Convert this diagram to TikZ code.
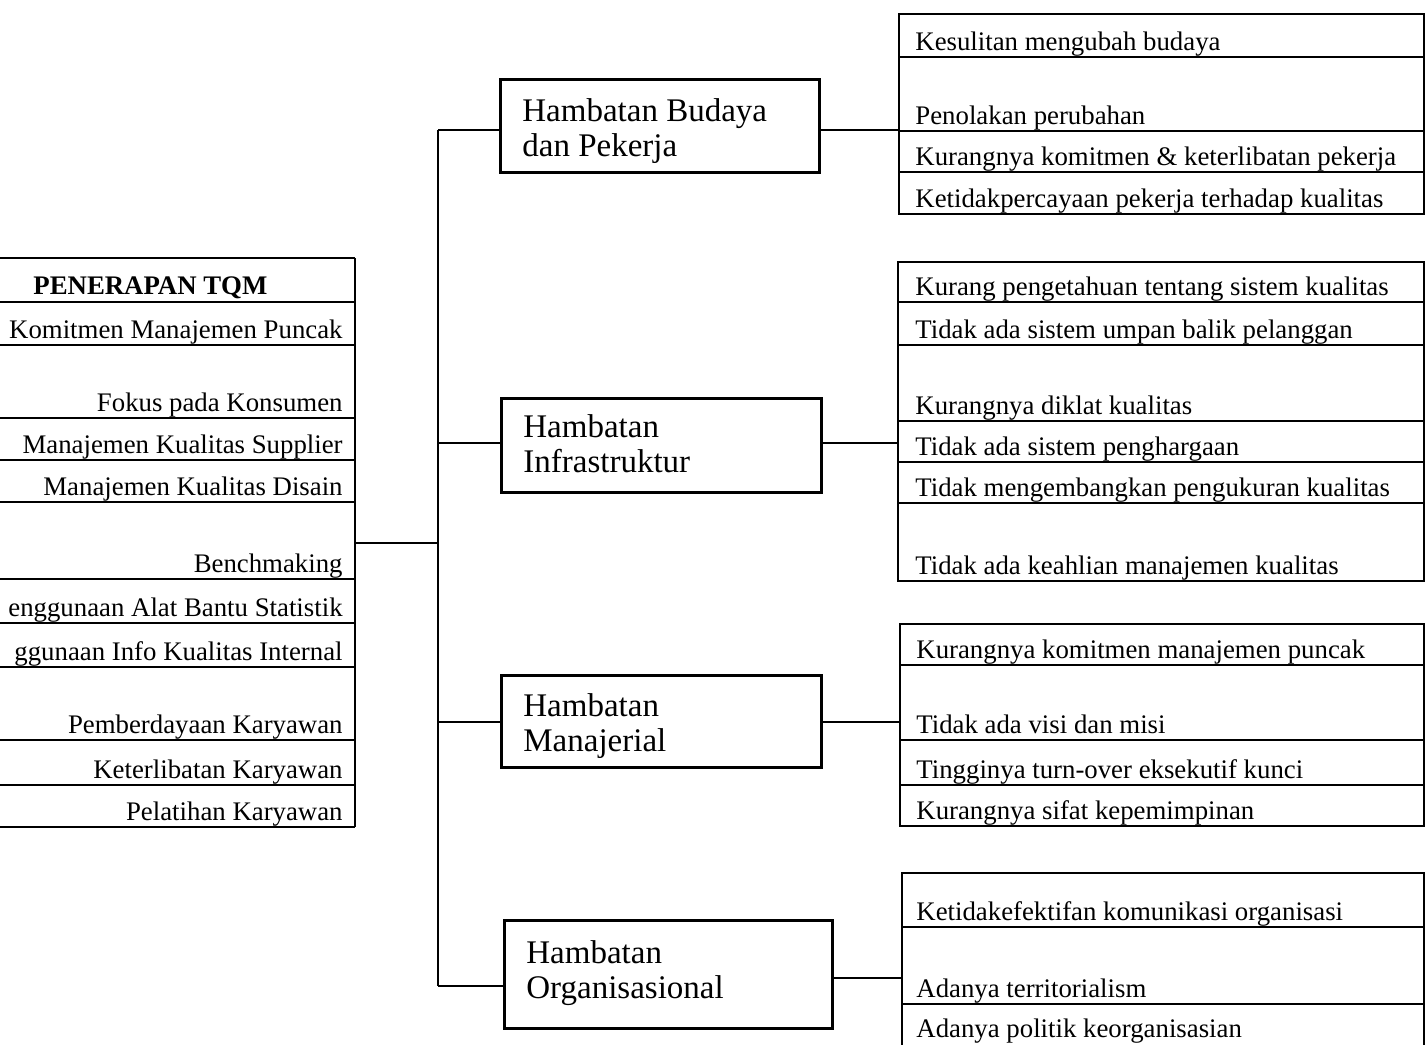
\documentclass[tikz,border=0pt]{standalone}
\usepackage{fontspec}
\setmainfont{Liberation Serif}
\newcommand{\hlab}[3]{\raisebox{#1}[\height][\depth]{\makebox[#2][l]{\begin{tabular}{@{}l@{}}#3\end{tabular}}}}
\begin{document}
\begin{tikzpicture}[x=0.5pt,y=-0.5pt,
  rowtxt/.style={inner sep=0pt,font=\fontsize{13.4}{16}\selectfont},
  lt/.style={rowtxt,anchor=base east},
  rt/.style={rowtxt,anchor=base west},
  rule/.style={line width=1pt},
  conn/.style={line width=1.2pt},
  hbox/.style={draw,line width=1.4pt,inner sep=0pt,anchor=north west,
    font=\fontsize{16.5}{17.5}\selectfont}]
\useasboundingbox (0,0) rectangle (1427,1044);
\clip (0,0) rectangle (1427,1044);
\fill[white] (0,0) rectangle (1427,1044);

% ---------------- left table: PENERAPAN TQM ----------------
\foreach \yy in {258,302,345,418,460,502,579,623,667,740,785,827}
  \draw[rule] (0,\yy) -- (355,\yy);
\draw[rule] (355,258) -- (355,827);
\node[rowtxt,anchor=base west,font=\fontsize{13.4}{16}\selectfont\bfseries] (tqm) at (33,294) {PENERAPAN TQM};
\node[lt] (l1) at (343,338) {Komitmen Manajemen Puncak};
\node[lt] (l2) at (343,411) {Fokus pada Konsumen};
\node[lt] (l3) at (343,453) {Manajemen Kualitas Supplier};
\node[lt] (l4) at (343,495) {Manajemen Kualitas Disain};
\node[lt] (l5) at (343,572) {Benchmaking};
\node[lt] (l6) at (343,616) {enggunaan Alat Bantu Statistik};
\node[lt] (l7) at (343,660) {ggunaan Info Kualitas Internal};
\node[lt] (l8) at (343,733) {Pemberdayaan Karyawan};
\node[lt] (l9) at (343,778) {Keterlibatan Karyawan};
\node[lt] (l10) at (343,820) {Pelatihan Karyawan};
\coordinate (tqmE) at (355,543);

% ---------------- middle boxes ----------------
\node[hbox,minimum width=159.5pt,minimum height=46.5pt] (budaya) at (499,78)
  {\hlab{-3pt}{137.5pt}{Hambatan Budaya\\dan Pekerja}};
\node[hbox,minimum width=160pt,minimum height=47pt] (infra) at (500,397)
  {\hlab{-1.5pt}{138pt}{Hambatan\\Infrastruktur}};
\node[hbox,minimum width=160pt,minimum height=46pt] (manaj) at (500,674)
  {\hlab{-3pt}{138pt}{Hambatan\\Manajerial}};
\node[hbox,minimum width=164pt,minimum height=54pt] (organ) at (503,919)
  {\hlab{0pt}{142pt}{Hambatan\\Organisasional}};

% spine
\coordinate (s1) at (438,130);
\coordinate (s2) at (438,443);
\coordinate (s3) at (438,722);
\coordinate (s4) at (438,986);
\draw[conn] (s1) -- (s4);
\draw[conn] (tqmE) -- (tqmE -| s1);
\draw[conn] (s1) -- (budaya.west |- s1);
\draw[conn] (s2) -- (infra.west |- s2);
\draw[conn] (s3) -- (manaj.west |- s3);
\draw[conn] (s4) -- (organ.west |- s4);

% ---------------- right tables ----------------
% table 1
\draw[rule] (899,14) rectangle (1424,214);
\foreach \yy in {57,131,172} \draw[rule] (899,\yy) -- (1424,\yy);
\node[rt] (a1) at (915,50) {Kesulitan mengubah budaya};
\node[rt] (a2) at (915,124) {Penolakan perubahan};
\node[rt] (a3) at (915,165) {Kurangnya komitmen \& keterlibatan pekerja};
\node[rt] (a4) at (915,207) {Ketidakpercayaan pekerja terhadap kualitas};
\coordinate (t1w) at (899,130);
\draw[conn] (budaya.east |- t1w) -- (t1w);

% table 2
\draw[rule] (898,262) rectangle (1424,581);
\foreach \yy in {302,345,421,462,503} \draw[rule] (898,\yy) -- (1424,\yy);
\node[rt] (b1) at (915,295) {Kurang pengetahuan tentang sistem kualitas};
\node[rt] (b2) at (915,338) {Tidak ada sistem umpan balik pelanggan};
\node[rt] (b3) at (915,414) {Kurangnya diklat kualitas};
\node[rt] (b4) at (915,455) {Tidak ada sistem penghargaan};
\node[rt] (b5) at (915,496) {Tidak mengembangkan pengukuran kualitas};
\node[rt] (b6) at (915,574) {Tidak ada keahlian manajemen kualitas};
\coordinate (t2w) at (898,443);
\draw[conn] (infra.east |- t2w) -- (t2w);

% table 3
\draw[rule] (900,624) rectangle (1424,826);
\foreach \yy in {665,740,785} \draw[rule] (900,\yy) -- (1424,\yy);
\node[rt] (c1) at (916,658) {Kurangnya komitmen manajemen puncak};
\node[rt] (c2) at (916,733) {Tidak ada visi dan misi};
\node[rt] (c3) at (916,778) {Tingginya turn-over eksekutif kunci};
\node[rt] (c4) at (916,819) {Kurangnya sifat kepemimpinan};
\coordinate (t3w) at (900,722);
\draw[conn] (manaj.east |- t3w) -- (t3w);

% table 4
\draw[rule] (902,1060) -- (902,873) -- (1424,873) -- (1424,1060);
\foreach \yy in {927,1004} \draw[rule] (902,\yy) -- (1424,\yy);
\node[rt] (d1) at (916,920) {Ketidakefektifan komunikasi organisasi};
\node[rt] (d2) at (916,997) {Adanya territorialism};
\node[rt] (d3) at (916,1037) {Adanya politik keorganisasian};
\coordinate (t4w) at (902,978);
\draw[conn] (organ.east |- t4w) -- (t4w);
\end{tikzpicture}
\end{document}
